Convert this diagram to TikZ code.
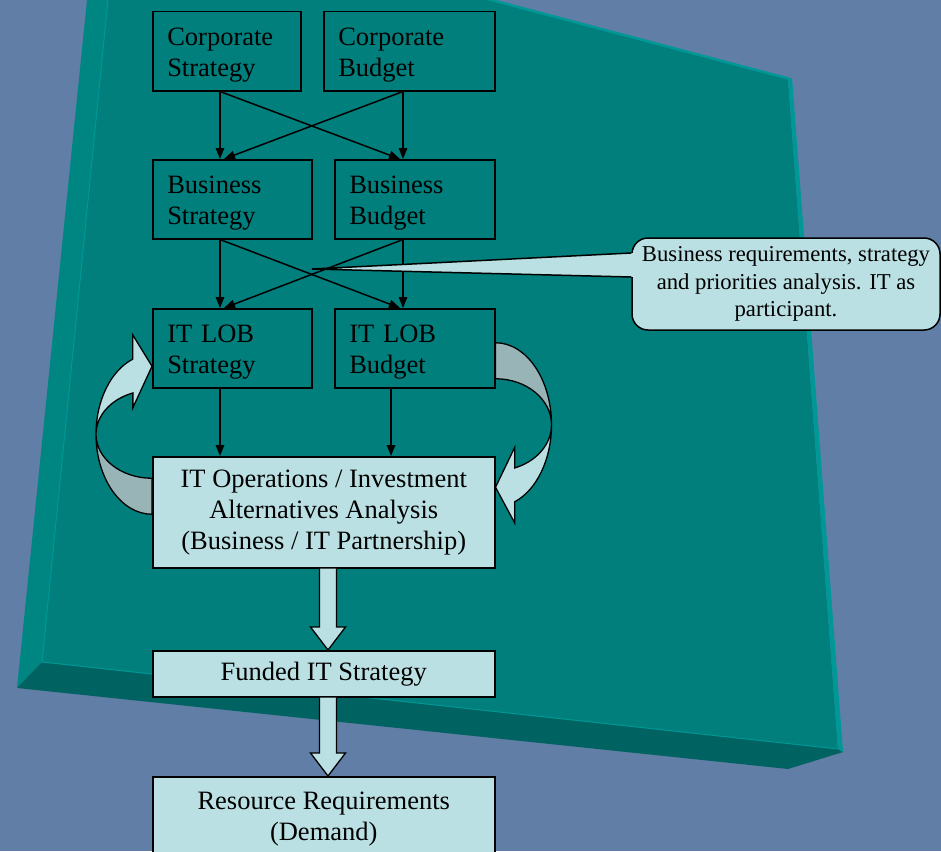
\documentclass[tikz,border=0pt]{standalone}
\usepackage{fontspec}
\setmainfont{Liberation Serif}
\usepackage{xcolor}
\usetikzlibrary{calc,arrows.meta}
\definecolor{deskblue}{RGB}{96,126,166}
\definecolor{slabteal}{RGB}{0,127,124}
\definecolor{slabside}{RGB}{0,134,130}
\definecolor{slabdark}{RGB}{0,99,97}
\definecolor{slabedge}{RGB}{0,152,150}
\definecolor{paleteal}{RGB}{187,224,227}
\definecolor{shadeteal}{RGB}{153,180,182}
\tikzset{
  stage/.style={draw=black, line width=1.5pt, inner xsep=14.5pt, align=left, minimum height=79pt, anchor=north west, font=\fontsize{26.5}{31}\selectfont, execute at begin node={\rule{0pt}{24.5pt}}},
  panel/.style={draw=black, fill=paleteal, line width=1.5pt, align=center, minimum width=342pt, anchor=north west, font=\fontsize{26.5}{31}\selectfont},
  flow/.style={-{Triangle[length=11pt,width=8.5pt]}, line width=1.5pt},
  hollow/.style={draw=black, fill=paleteal, line width=1.3pt, line join=miter},
  backface/.style={draw=black, fill=shadeteal, line width=1.3pt},
  callout/.style={draw=black, fill=paleteal, line width=1.5pt, rounded corners=16pt, align=center, minimum width=308pt, minimum height=92pt, font=\fontsize{22.7}{27.5}\selectfont}
}

\begin{document}
\begin{tikzpicture}[x=1pt,y=-1pt]
  \useasboundingbox (0,0) rectangle (941,851);
  \clip (0,0) rectangle (941,851);
  \fill[deskblue] (0,0) rectangle (941,851);
  % the slab
  \fill[slabside] (87,0) -- (108,0) -- (42,662) -- (17,688) -- cycle;
  \fill[slabteal] (108,0) -- (490,0) -- (788,79) -- (838,749) -- (42,662) -- cycle;
  \fill[slabdark] (42,662) -- (838,749) -- (843,752) -- (788,769) -- (17,688) -- cycle;
  \fill[slabedge] (788,79) -- (792,78) -- (843,752) -- (838,749) -- cycle;
  \draw[slabedge, line width=2.5pt] (484,-2) -- (790,79);
  \draw[slabedge, line width=1pt] (108,0) -- (42,662) -- (838,749);

  \node[stage, text width=119pt] (cs) at (152,11) {Corporate\\Strategy};
  \node[stage, text width=142pt] (cb) at (323,11) {Corporate\\Budget};
  \node[stage, text width=130pt] (bs) at (152,159) {Business\\Strategy};
  \node[stage, text width=131pt] (bb) at (334,159) {Business\\Budget};
  \node[stage, text width=130pt] (its) at (152,308) {IT LOB\\Strategy};
  \node[stage, text width=131pt] (itb) at (334,308) {IT LOB\\Budget};
  \node[panel, minimum height=111pt, execute at begin node={\rule{0pt}{24pt}}] (ops) at (152,456) {IT Operations / Investment\\Alternatives Analysis\\(Business / IT Partnership)};
  \node[panel, minimum height=46pt] (fund) at (152,650) {Funded IT Strategy};
  \node[panel, minimum height=85pt] (res) at (152,776) {Resource Requirements\\(Demand)};

  \coordinate (lcol) at (220,0);
  \coordinate (rcol) at (403,0);
  \coordinate (mcol) at (391,0);
  \coordinate (bcol) at (328,0);

  \draw[flow] (cs.south -| lcol) -- (bs.north -| lcol);
  \draw[flow] (cb.south -| rcol) -- (bb.north -| rcol);
  \draw[flow] (cs.south -| lcol) -- ($(bb.north -| rcol)+(-3,0)$);
  \draw[flow] (cb.south -| rcol) -- ($(bs.north -| lcol)+(4,0)$);
  \draw[flow] (bs.south -| lcol) -- (its.north -| lcol);
  \draw[flow] (bb.south -| rcol) -- (itb.north -| rcol);
  \draw[flow] (bs.south -| lcol) -- ($(itb.north -| rcol)+(-3,0)$);
  \draw[flow] (bb.south -| rcol) -- ($(its.north -| lcol)+(4,0)$);
  \draw[flow] (its.south -| lcol) -- (ops.north -| lcol);
  \draw[flow] (itb.south -| mcol) -- (ops.north -| mcol);

  % hollow block arrows
  \foreach \a/\b in {ops/fund, fund/res} {
    \draw[hollow] ($(\a.south -| bcol)+(-8.5,0)$) -- ($(\b.north -| bcol)+(-8.5,-23)$)
      -- ($(\b.north -| bcol)+(-17.5,-23)$) -- (\b.north -| bcol)
      -- ($(\b.north -| bcol)+(17.5,-23)$) -- ($(\b.north -| bcol)+(8.5,-23)$)
      -- ($(\a.south -| bcol)+(8.5,0)$);
  }

  % curved arrows
  \path (ops.west) ++(0,-78) coordinate (lc);
  \path (ops.east) ++(0,-87.5) coordinate (rc);
  \draw[backface] ($(lc)+(0,80)$) arc[start angle=90, end angle=180, x radius=56, y radius=80]
    arc[start angle=180, end angle=90, x radius=56, y radius=44] -- cycle;
  \draw[hollow] ($(lc)+(-56,0)$) arc[start angle=180, end angle=250, x radius=56, y radius=80]
    -- ++(0,-24) -- ($(its.west)+(0,18)$) -- ($(lc)+(-19.15,-26.5)$) -- ($(lc)+(-19.15,-41.3)$)
    arc[start angle=250, end angle=180, x radius=56, y radius=44] -- cycle;
  \draw[backface] ($(rc)+(0,-82)$) arc[start angle=270, end angle=360, x radius=56, y radius=82]
    arc[start angle=0, end angle=-90, x radius=56, y radius=46] -- cycle;
  \draw[hollow] ($(rc)+(56,0)$) arc[start angle=0, end angle=70, x radius=56, y radius=82]
    -- ++(0,21) -- ($(ops.east)+(0,-25)$) -- ($(rc)+(19.15,22.7)$) -- ($(rc)+(19.15,43.2)$)
    arc[start angle=70, end angle=0, x radius=56, y radius=46] -- cycle;

  % callout
  \node[callout] (note) at (786,284) {Business requirements, strategy\\and priorities analysis. IT as\\participant.};
  \coordinate (tip) at (312,269);
  \fill[paleteal] ($(note.west)+(2.5,-31)$) -- (tip) -- ($(note.west)+(2.5,-7)$) -- cycle;
  \draw[line width=1.5pt] ($(note.west)+(0,-31)$) -- (tip) -- ($(note.west)+(0,-7)$);
\end{tikzpicture}
\end{document}
